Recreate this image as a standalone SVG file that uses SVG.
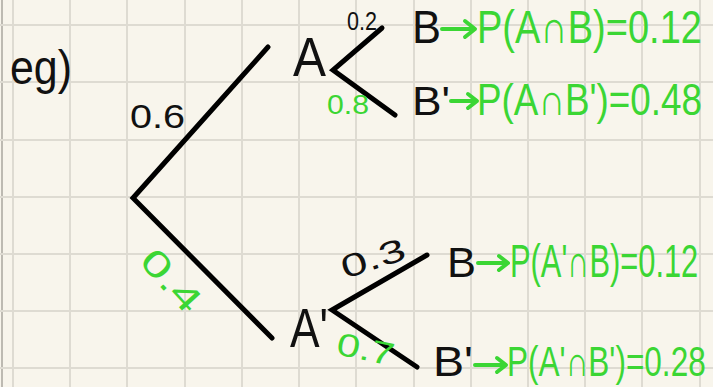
<svg xmlns="http://www.w3.org/2000/svg" width="713" height="387" viewBox="0 0 713 387">
<style>
.grid{stroke:#dedbd2;stroke-width:2}
.br{stroke:#000;stroke-width:5;stroke-linecap:round;fill:none}
.k{fill:#111;font-family:"Liberation Sans","DejaVu Sans",sans-serif}
.g{fill:#3bd634;font-family:"Liberation Sans","DejaVu Sans",sans-serif}
.ar{stroke:#3bd634;stroke-width:4;fill:none;stroke-linecap:round;stroke-linejoin:round}
</style>
<rect width="713" height="387" fill="#f8f5ec"/>
<g id="grid">
<line class="grid" x1="2" y1="0" x2="2" y2="387" style="stroke:#bdbab2"/>
<line class="grid" x1="13" y1="0" x2="13" y2="387"/>
<line class="grid" x1="70" y1="0" x2="70" y2="387"/>
<line class="grid" x1="127" y1="0" x2="127" y2="387"/>
<line class="grid" x1="185" y1="0" x2="185" y2="387"/>
<line class="grid" x1="242" y1="0" x2="242" y2="387"/>
<line class="grid" x1="299" y1="0" x2="299" y2="387"/>
<line class="grid" x1="356" y1="0" x2="356" y2="387"/>
<line class="grid" x1="414" y1="0" x2="414" y2="387"/>
<line class="grid" x1="471" y1="0" x2="471" y2="387"/>
<line class="grid" x1="528" y1="0" x2="528" y2="387"/>
<line class="grid" x1="585" y1="0" x2="585" y2="387"/>
<line class="grid" x1="642" y1="0" x2="642" y2="387"/>
<line class="grid" x1="700" y1="0" x2="700" y2="387"/>
<line class="grid" x1="0" y1="25" x2="713" y2="25"/>
<line class="grid" x1="0" y1="82" x2="713" y2="82"/>
<line class="grid" x1="0" y1="140" x2="713" y2="140"/>
<line class="grid" x1="0" y1="197" x2="713" y2="197"/>
<line class="grid" x1="0" y1="254" x2="713" y2="254"/>
<line class="grid" x1="0" y1="311" x2="713" y2="311"/>
<line class="grid" x1="0" y1="368" x2="713" y2="368"/>
</g>
<g id="connectors">
<polyline class="br" points="268,47 133,198 272,338"/>
<polyline class="br" points="382,28 333,70 395,115"/>
<polyline class="br" points="427,255 332,310 417,367"/>
<path class="ar" d="M442,29 H474 M465,21 L475,29 L465,37"/>
<path class="ar" d="M451,101 H476 M468,94 L477,101 L468,108"/>
<path class="ar" d="M478,263 H507 M499,256 L508,263 L499,270"/>
<path class="ar" d="M475,365 H505 M497,358 L506,365 L497,372"/>
</g>
<g id="title"><text class="k" x="10" y="84" font-size="48" textLength="62" lengthAdjust="spacingAndGlyphs">eg)</text></g>
<g id="label-06"><text class="k" x="130" y="128" font-size="34" textLength="55" lengthAdjust="spacingAndGlyphs">0.6</text></g>
<g id="label-04"><text class="g" x="0" y="0" font-size="36" textLength="72" lengthAdjust="spacingAndGlyphs" transform="translate(138,262) rotate(48)">0.4</text></g>
<g id="node-A"><text class="k" x="293" y="76" font-size="56" textLength="33" lengthAdjust="spacingAndGlyphs">A</text></g>
<g id="label-02"><text class="k" x="347" y="30" font-size="26" textLength="30" lengthAdjust="spacingAndGlyphs">0.2</text></g>
<g id="label-08"><text class="g" x="327" y="114" font-size="28" textLength="42" lengthAdjust="spacingAndGlyphs">0.8</text></g>
<g id="node-B1"><text class="k" x="412" y="43" font-size="46" textLength="29" lengthAdjust="spacingAndGlyphs">B</text></g>
<g id="res-AB"><text class="g" x="0" y="0" font-size="46" textLength="271" lengthAdjust="spacingAndGlyphs" transform="translate(477,43) scale(0.83,1)">P(A∩B)=0.12</text></g>
<g id="node-B2"><text class="k" x="412" y="115" font-size="40" textLength="38" lengthAdjust="spacingAndGlyphs">B'</text></g>
<g id="res-ABc"><text class="g" x="0" y="0" font-size="44" textLength="268" lengthAdjust="spacingAndGlyphs" transform="translate(477,115) scale(0.84,1)">P(A∩B')=0.48</text></g>
<g id="node-Ac"><text class="k" x="290" y="347" font-size="56" textLength="38" lengthAdjust="spacingAndGlyphs">A'</text></g>
<g id="label-03"><text class="k" x="0" y="0" font-size="32" textLength="66" lengthAdjust="spacingAndGlyphs" transform="translate(345,279) rotate(-18)">0.3</text></g>
<g id="label-07"><text class="g" x="0" y="0" font-size="32" textLength="58" lengthAdjust="spacingAndGlyphs" transform="translate(335,354) rotate(12)">0.7</text></g>
<g id="node-B3"><text class="k" x="447" y="277" font-size="42" textLength="29" lengthAdjust="spacingAndGlyphs">B</text></g>
<g id="res-AcB"><text class="g" x="0" y="0" font-size="46" textLength="281" lengthAdjust="spacingAndGlyphs" transform="translate(510,277) scale(0.67,1)">P(A'∩B)=0.12</text></g>
<g id="node-B4"><text class="k" x="433" y="376" font-size="42" textLength="40" lengthAdjust="spacingAndGlyphs">B'</text></g>
<g id="res-AcBc"><text class="g" x="0" y="0" font-size="42" textLength="265" lengthAdjust="spacingAndGlyphs" transform="translate(507,376) scale(0.75,1)">P(A'∩B')=0.28</text></g>
</svg>
